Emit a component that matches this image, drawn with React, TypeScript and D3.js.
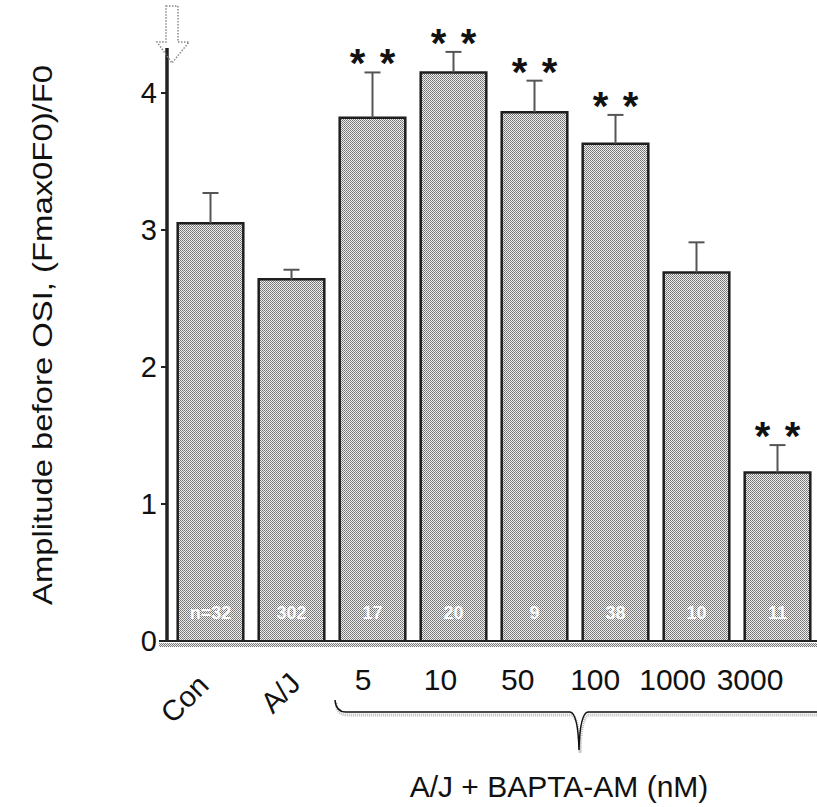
import React, { useEffect, useRef } from 'react';
import * as d3 from 'd3';

// values
const categories = ['Con', 'A/J', '5', '10', '50', '100', '1000', '3000'];
const means = [3.05, 2.64, 3.82, 4.15, 3.86, 3.63, 2.69, 1.23];
const errors = [0.22, 0.07, 0.33, 0.15, 0.23, 0.21, 0.22, 0.2];
const nLabels = ['n=32', '302', '17', '20', '9', '38', '10', '11'];
const significant = [false, false, true, true, true, true, false, true];
const yTicks = [0, 1, 2, 3, 4];
const doseLabels = ['5', '10', '50', '100', '1000', '3000'];

const W = 817;
const H = 807;
const FONT = 'Arial, "Liberation Sans", sans-serif';

export default function App() {
  const svgRef = useRef<SVGSVGElement>(null);

  useEffect(() => {
    const svg = d3.select(svgRef.current);
    svg.selectAll('*').remove();

    const x0 = 167;
    const yBase = 641;

    const x = d3.scaleBand<string>()
      .domain(categories)
      .range([170, 818])
      .paddingInner(0.19)
      .paddingOuter(0.095);

    const y = d3.scaleLinear().domain([0, 4]).range([yBase, 93]);

    // halftone dot fill like the scanned figure
    const defs = svg.append('defs');
    const pat = defs.append('pattern')
      .attr('id', 'dots')
      .attr('width', 2)
      .attr('height', 2)
      .attr('patternUnits', 'userSpaceOnUse');
    pat.append('rect').attr('width', 2).attr('height', 2).attr('fill', '#eeeeee');
    pat.append('rect').attr('x', 0).attr('y', 0).attr('width', 1).attr('height', 1).attr('fill', '#707070');
    pat.append('rect').attr('x', 1).attr('y', 1).attr('width', 1).attr('height', 1).attr('fill', '#858585');

    // bars
    const bars = svg.append('g');
    categories.forEach((c, i) => {
      const bx = x(c)!;
      const bw = x.bandwidth();
      const top = y(means[i]);
      bars.append('rect')
        .attr('x', bx)
        .attr('y', top)
        .attr('width', bw)
        .attr('height', yBase - top)
        .attr('fill', 'url(#dots)');
      bars.append('path')
        .attr('d', `M${bx},${yBase}V${top}H${bx + bw}V${yBase}`)
        .attr('fill', 'none')
        .attr('stroke', '#1e1e1e')
        .attr('stroke-width', 2.5);
    });

    // error bars
    const errG = svg.append('g').attr('stroke', '#555').attr('stroke-width', 2).attr('fill', 'none');
    categories.forEach((c, i) => {
      const cx = x(c)! + x.bandwidth() / 2;
      const t = y(means[i] + errors[i]);
      errG.append('line').attr('x1', cx).attr('x2', cx).attr('y1', y(means[i])).attr('y2', t);
      errG.append('line').attr('x1', cx - 8).attr('x2', cx + 8).attr('y1', t).attr('y2', t);
    });

    // significance stars
    const starG = svg.append('g')
      .attr('font-family', FONT)
      .attr('font-size', 40)
      .attr('font-weight', 'bold')
      .attr('fill', '#111')
      .attr('text-anchor', 'middle');
    categories.forEach((c, i) => {
      if (!significant[i]) return;
      const cx = x(c)! + x.bandwidth() / 2;
      const t = y(means[i] + errors[i]);
      [-15, 15].forEach(dx => {
        starG.append('text').attr('x', cx + dx).attr('y', t + 5).text('*');
      });
    });

    // n labels inside bars
    svg.append('g')
      .attr('font-family', FONT)
      .attr('font-size', 18)
      .attr('font-weight', 'bold')
      .attr('fill', '#fafafa')
      .attr('text-anchor', 'middle')
      .selectAll('text')
      .data(categories)
      .join('text')
      .attr('x', d => x(d)! + x.bandwidth() / 2)
      .attr('y', yBase - 22)
      .text((d, i) => nLabels[i]);

    // x axis (double line with dotted shadow)
    svg.append('rect')
      .attr('x', x0 - 8)
      .attr('y', yBase + 2)
      .attr('width', W - x0 + 8)
      .attr('height', 4)
      .attr('fill', 'url(#dots)');
    svg.append('line')
      .attr('x1', x0 - 8).attr('x2', W)
      .attr('y1', yBase).attr('y2', yBase)
      .attr('stroke', '#222').attr('stroke-width', 2);

    // y axis
    svg.append('line')
      .attr('x1', x0).attr('x2', x0)
      .attr('y1', yBase).attr('y2', 48)
      .attr('stroke', '#222').attr('stroke-width', 3.5);

    const yAxis = svg.append('g');
    yTicks.forEach(t => {
      yAxis.append('line')
        .attr('x1', x0 - 6).attr('x2', x0)
        .attr('y1', y(t)).attr('y2', y(t))
        .attr('stroke', '#222').attr('stroke-width', 2);
      yAxis.append('text')
        .attr('x', x0 - 10)
        .attr('y', y(t))
        .attr('dy', '0.36em')
        .attr('text-anchor', 'end')
        .attr('font-family', FONT)
        .attr('font-size', 29)
        .attr('fill', '#111')
        .text(t);
    });

    // hollow arrow at the top of the y axis
    svg.append('path')
      .attr('d', 'M166,6 H178 V42 H189 L172,63 L157,42 H166 Z')
      .attr('fill', 'none')
      .attr('stroke', '#888')
      .attr('stroke-width', 1.5)
      .attr('stroke-dasharray', '1.5,1.5');

    // y axis title
    svg.append('text')
      .attr('transform', 'translate(52,335) rotate(-90)')
      .attr('text-anchor', 'middle')
      .attr('font-family', FONT)
      .attr('font-size', 28)
      .attr('fill', '#111')
      .attr('textLength', 540)
      .attr('lengthAdjust', 'spacingAndGlyphs')
      .text('Amplitude before OSI, (Fmax0F0)/F0');

    // rotated group labels
    const rotG = svg.append('g')
      .attr('font-family', FONT)
      .attr('font-size', 29)
      .attr('fill', '#111')
      .attr('text-anchor', 'middle');
    rotG.append('text')
      .attr('transform', `translate(${x('Con')! + x.bandwidth() / 2 - 19},706) rotate(-45)`)
      .text('Con');
    rotG.append('text')
      .attr('transform', `translate(${x('A/J')! + x.bandwidth() / 2 - 4},700) rotate(-45)`)
      .text('A/J');

    // dose labels under the bracket
    const dose = d3.scalePoint<string>().domain(doseLabels).range([363, 750]);
    svg.append('g')
      .attr('font-family', FONT)
      .attr('font-size', 30)
      .attr('fill', '#111')
      .attr('text-anchor', 'middle')
      .selectAll('text')
      .data(doseLabels)
      .join('text')
      .attr('x', d => dose(d)!)
      .attr('y', 690)
      .text(d => d);

    // bracket
    const bracket = 'M335,700 Q336,712 346,712 L570,712 Q578,713 579,750 Q580,713 588,712 L817,712';
    svg.append('path')
      .attr('d', bracket)
      .attr('transform', 'translate(1,3)')
      .attr('fill', 'none')
      .attr('stroke', '#bbb')
      .attr('stroke-width', 3)
      .attr('stroke-dasharray', '1,1');
    svg.append('path')
      .attr('d', bracket)
      .attr('fill', 'none')
      .attr('stroke', '#111')
      .attr('stroke-width', 1.5);

    svg.append('text')
      .attr('x', 559)
      .attr('y', 797)
      .attr('text-anchor', 'middle')
      .attr('font-family', FONT)
      .attr('font-size', 30)
      .attr('fill', '#111')
      .text('A/J + BAPTA-AM (nM)');
  }, []);

  return (
    <svg
      ref={svgRef}
      width={W}
      height={H}
      style={{ position: 'absolute', left: 0, top: 0, background: '#fff' }}
    />
  );
}
